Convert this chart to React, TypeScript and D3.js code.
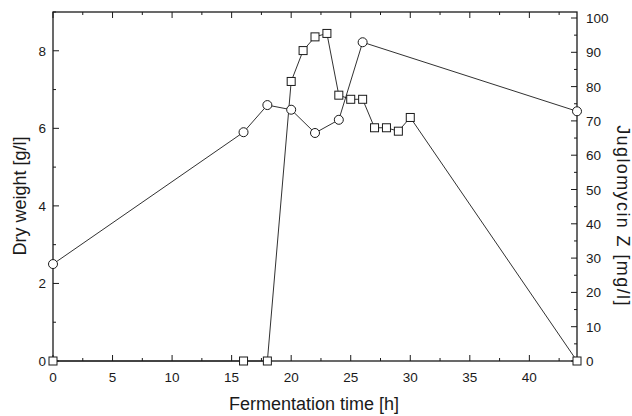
import React, { useRef, useEffect } from "react";
import * as d3 from "d3";

// Dry weight [g/l] (circles, left axis)
const dryTime = [0, 16, 18, 20, 22, 24, 26, 44];
const dryWeight = [2.5, 5.9, 6.6, 6.48, 5.88, 6.22, 8.22, 6.44];

// Juglomycin Z [mg/l] (squares, right axis)
const jugTime = [0, 16, 18, 20, 21, 22, 23, 24, 25, 26, 27, 28, 29, 30, 44];
const jugValue = [0, 0, 0, 81.5, 90.5, 94.5, 95.5, 77.5, 76.3, 76.3, 68, 68, 67, 71, 0];

const xTicks = [0, 5, 10, 15, 20, 25, 30, 35, 40];
const leftTicks = [0, 2, 4, 6, 8];
const rightTicks = [0, 10, 20, 30, 40, 50, 60, 70, 80, 90, 100];

const App = () => {
  const svgRef = useRef<SVGSVGElement>(null);

  useEffect(() => {
    const width = 632;
    const height = 416;
    const left = 53;
    const right = 577;
    const top = 12;
    const bottom = 361;
    const ink = "#1a1a1a";
    const font = "Liberation Sans, Arial, sans-serif";

    const svg = d3.select(svgRef.current).attr("width", width).attr("height", height);
    svg.selectAll("*").remove();

    const x = d3.scaleLinear().domain([0, 44]).range([left, right]);
    const yL = d3.scaleLinear().domain([0, 9]).range([bottom, top]);
    const yR = d3.scaleLinear().domain([0, 100]).range([bottom, bottom - 343]);

    // frame
    svg
      .append("rect")
      .attr("x", left)
      .attr("y", top)
      .attr("width", right - left)
      .attr("height", bottom - top)
      .attr("fill", "none")
      .attr("stroke", ink)
      .attr("stroke-width", 1.3);

    const minorX = d3.range(0, 44.1, 2.5);
    const tickG = svg.append("g").attr("stroke", ink).attr("stroke-width", 1);

    // bottom & top ticks (inward)
    minorX.forEach((t) => {
      const len = t % 5 === 0 ? 6 : 3;
      tickG.append("line").attr("x1", x(t)).attr("x2", x(t)).attr("y1", bottom).attr("y2", bottom - len);
      tickG.append("line").attr("x1", x(t)).attr("x2", x(t)).attr("y1", top).attr("y2", top + len);
    });

    // left ticks
    d3.range(0, 9.1, 1).forEach((v) => {
      const len = v % 2 === 0 ? 6 : 3;
      tickG.append("line").attr("x1", left).attr("x2", left + len).attr("y1", yL(v)).attr("y2", yL(v));
    });

    // right ticks
    d3.range(0, 100.1, 5).forEach((v) => {
      const len = v % 10 === 0 ? 6 : 3;
      tickG.append("line").attr("x1", right).attr("x2", right - len).attr("y1", yR(v)).attr("y2", yR(v));
    });

    const labels = svg.append("g").attr("font-family", font).attr("font-size", 13.5).attr("fill", ink);

    labels
      .selectAll(".xl")
      .data(xTicks)
      .join("text")
      .attr("x", (d) => x(d))
      .attr("y", bottom + 21)
      .attr("text-anchor", "middle")
      .text((d) => d);

    labels
      .selectAll(".yl")
      .data(leftTicks)
      .join("text")
      .attr("x", left - 7)
      .attr("y", (d) => yL(d) + 5)
      .attr("text-anchor", "end")
      .text((d) => d);

    labels
      .selectAll(".yr")
      .data(rightTicks)
      .join("text")
      .attr("x", right + 9)
      .attr("y", (d) => yR(d) + 5)
      .attr("text-anchor", "start")
      .text((d) => d);

    // axis titles
    svg
      .append("text")
      .attr("x", 314)
      .attr("y", 410)
      .attr("text-anchor", "middle")
      .attr("font-family", font)
      .attr("font-size", 18)
      .attr("fill", ink)
      .text("Fermentation time [h]");

    svg
      .append("text")
      .attr("transform", `translate(26,196) rotate(-90)`)
      .attr("text-anchor", "middle")
      .attr("font-family", font)
      .attr("font-size", 18)
      .attr("fill", ink)
      .text("Dry weight [g/l]");

    svg
      .append("text")
      .attr("transform", `translate(617,216) rotate(90)`)
      .attr("text-anchor", "middle")
      .attr("font-family", font)
      .attr("font-size", 18)
      .attr("letter-spacing", 1.4)
      .attr("fill", ink)
      .text("Juglomycin Z [mg/l]");

    // lines
    const dryData = dryTime.map((t, i) => ({ t, v: dryWeight[i] }));
    const jugData = jugTime.map((t, i) => ({ t, v: jugValue[i] }));

    const lineL = d3
      .line<{ t: number; v: number }>()
      .x((d) => x(d.t))
      .y((d) => yL(d.v));
    const lineR = d3
      .line<{ t: number; v: number }>()
      .x((d) => x(d.t))
      .y((d) => yR(d.v));

    svg
      .append("path")
      .attr("d", lineL(dryData))
      .attr("fill", "none")
      .attr("stroke", ink)
      .attr("stroke-width", 0.9);

    svg
      .append("path")
      .attr("d", lineR(jugData))
      .attr("fill", "none")
      .attr("stroke", ink)
      .attr("stroke-width", 0.9);

    // markers
    svg
      .selectAll(".sq")
      .data(jugData)
      .join("rect")
      .attr("x", (d) => x(d.t) - 4)
      .attr("y", (d) => yR(d.v) - 4)
      .attr("width", 8)
      .attr("height", 8)
      .attr("fill", "white")
      .attr("stroke", ink)
      .attr("stroke-width", 1);

    svg
      .selectAll(".ci")
      .data(dryData)
      .join("circle")
      .attr("cx", (d) => x(d.t))
      .attr("cy", (d) => yL(d.v))
      .attr("r", 4.5)
      .attr("fill", "white")
      .attr("stroke", ink)
      .attr("stroke-width", 1);
  }, []);

  return (
    <div style={{ position: "absolute", left: 0, top: 0 }}>
      <svg ref={svgRef} style={{ display: "block" }}></svg>
    </div>
  );
};

export default App;
